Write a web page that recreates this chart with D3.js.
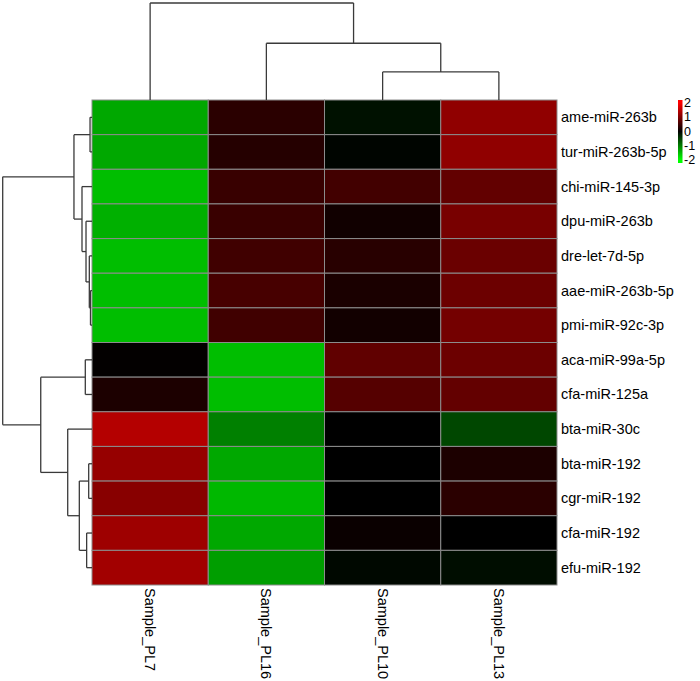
<!DOCTYPE html>
<html>
<head>
<meta charset="utf-8">
<script src="https://cdn.jsdelivr.net/npm/d3@7/dist/d3.min.js"></script>
<style>
  html, body { margin: 0; padding: 0; background: #fff; }
  svg { display: block; }
  text { font-family: "Liberation Sans", Arial, Helvetica, sans-serif; fill: #000; }
</style>
</head>
<body>
<svg id="chart" width="700" height="681"></svg>
<script>
// ---------------- DATA ----------------
const samples = ["Sample_PL7", "Sample_PL16", "Sample_PL10", "Sample_PL13"];
const genes = [
  "ame-miR-263b", "tur-miR-263b-5p", "chi-miR-145-3p", "dpu-miR-263b",
  "dre-let-7d-5p", "aae-miR-263b-5p", "pmi-miR-92c-3p", "aca-miR-99a-5p",
  "cfa-miR-125a", "bta-miR-30c", "bta-miR-192", "cgr-miR-192",
  "cfa-miR-192", "efu-miR-192"
];
// row-scaled expression (z-scores), one array per sample column
const valuesPL7  = [-1.32, -1.32, -1.49, -1.38, -1.49, -1.49, -1.49,  0.02,  0.22,  1.41,  1.18,  1.07,  1.24,  1.27];
const valuesPL16 = [ 0.33,  0.29,  0.44,  0.45,  0.50,  0.56,  0.50, -1.49, -1.49, -1.00, -1.32, -1.44, -1.32, -1.24];
const valuesPL10 = [-0.13, -0.04,  0.52,  0.13,  0.31,  0.20,  0.14,  0.75,  0.67,  0.00,  0.00,  0.00,  0.08, -0.06];
const valuesPL13 = [ 1.13,  1.13,  0.77,  0.94,  0.83,  0.85,  0.91,  0.85,  0.78, -0.56,  0.22,  0.33,  0.00, -0.10];
const legendTicks = [2, 1, 0, -1, -2];
// dendrograms: nested merges, leaf = index, h = merge height
const rowTree = {h: 10, c: [
  {h: 2.02, c: [
    {h: 0.22, c: [0, 1]},
    {h: 1.12, c: [2, {h: 0.67, c: [3, {h: 0.30, c: [4, {h: 0.17, c: [5, 6]}]}]}]}
  ]},
  {h: 5.74, c: [
    {h: 0.75, c: [7, 8]},
    {h: 2.72, c: [9, {h: 1.42, c: [{h: 0.37, c: [10, 11]}, {h: 0.60, c: [12, 13]}]}]}
  ]}
]};
const colTree = {h: 10, c: [0, {h: 5.85, c: [1, {h: 2.89, c: [2, 3]}]}]};

// ---------------- LAYOUT ----------------
const gridL = 92, gridR = 557, gridT = 100, gridB = 585;
const svg = d3.select("#chart");
const columns = [valuesPL7, valuesPL16, valuesPL10, valuesPL13];

const x = d3.scaleBand().domain(d3.range(samples.length)).range([gridL, gridR]);
const y = d3.scaleBand().domain(d3.range(genes.length)).range([gridT, gridB]);
const color = d3.scaleLinear().domain([-2, 0, 2]).range(["#00ff00", "#000000", "#ff0000"]).clamp(true);

const cells = [];
columns.forEach((col, j) => col.forEach((v, i) => cells.push({i, j, v})));

svg.append("g").selectAll("rect").data(cells).join("rect")
  .attr("x", d => x(d.j))
  .attr("y", d => y(d.i))
  .attr("width", x.bandwidth())
  .attr("height", y.bandwidth())
  .attr("fill", d => color(d.v))
  .attr("stroke", "#8c8c8c")
  .attr("stroke-width", 1);

// row labels
svg.append("g").selectAll("text").data(genes).join("text")
  .attr("x", gridR + 4)
  .attr("y", (d, i) => y(i) + y.bandwidth() / 2)
  .attr("dominant-baseline", "central")
  .style("font-size", "14.5px")
  .text(d => d);

// column labels (rotated)
svg.append("g").selectAll("text").data(samples).join("text")
  .attr("transform", (d, j) => `translate(${x(j) + x.bandwidth() / 2},${gridB + 3}) rotate(90)`)
  .attr("dominant-baseline", "central")
  .style("font-size", "14.5px")
  .text(d => d);

// ---------------- DENDROGRAMS ----------------
function drawTree(tree, leafPos, hScale, orient) {
  const g = svg.append("g").attr("fill", "none").attr("stroke", "#3a3a3a").attr("stroke-width", 1.3);
  function layout(node) {
    if (typeof node === "number") return {p: leafPos(node), h: 0};
    const kids = node.c.map(layout);
    const p = (kids[0].p + kids[1].p) / 2;
    const hp = hScale(node.h);
    kids.forEach(k => {
      const hk = hScale(k.h);
      if (orient === "row") g.append("line").attr("x1", hp).attr("x2", hk).attr("y1", k.p).attr("y2", k.p);
      else g.append("line").attr("y1", hp).attr("y2", hk).attr("x1", k.p).attr("x2", k.p);
    });
    if (orient === "row") g.append("line").attr("x1", hp).attr("x2", hp).attr("y1", kids[0].p).attr("y2", kids[1].p);
    else g.append("line").attr("y1", hp).attr("y2", hp).attr("x1", kids[0].p).attr("x2", kids[1].p);
    return {p, h: node.h};
  }
  layout(tree);
}
drawTree(rowTree, i => y(i) + y.bandwidth() / 2, d3.scaleLinear().domain([0, 10]).range([gridL, 2.7]), "row");
drawTree(colTree, j => x(j) + x.bandwidth() / 2, d3.scaleLinear().domain([0, 10]).range([gridT, 3]), "col");

// ---------------- LEGEND ----------------
const ly = d3.scaleLinear().domain([-2.2, 2.2]).range([163, 100]);
const defs = svg.append("defs");
const grad = defs.append("linearGradient").attr("id", "lg").attr("x1", 0).attr("y1", 1).attr("x2", 0).attr("y2", 0);
[-2.2, -2, 0, 2, 2.2].forEach(v => {
  grad.append("stop").attr("offset", (v + 2.2) / 4.4).attr("stop-color", color(v));
});
svg.append("rect").attr("x", 678).attr("y", ly(2.2)).attr("width", 4.5)
  .attr("height", ly(-2.2) - ly(2.2)).attr("fill", "url(#lg)");
svg.append("g").selectAll("text").data(legendTicks).join("text")
  .attr("x", 684)
  .attr("y", d => ly(d))
  .attr("dominant-baseline", "central")
  .style("font-size", "12.5px")
  .text(d => d);
</script>
</body>
</html>
